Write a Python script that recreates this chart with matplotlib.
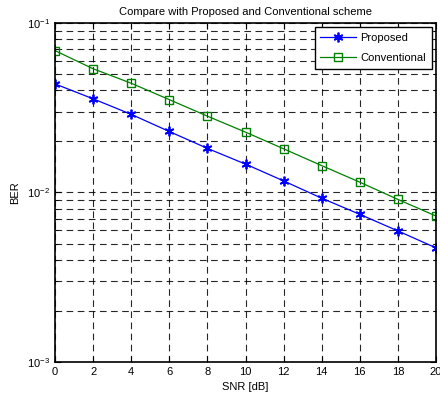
import matplotlib
matplotlib.use("Agg")
import matplotlib.pyplot as plt
from matplotlib.ticker import LogLocator, NullFormatter

plt.rcParams['font.family'] = ['Liberation Sans', 'DejaVu Sans']

snr = [0, 2, 4, 6, 8, 10, 12, 14, 16, 18, 20]
ber_proposed = [0.0437, 0.0357, 0.0289, 0.0229, 0.0182, 0.0147, 0.0117, 0.00925, 0.00743, 0.00593, 0.00471]
ber_conventional = [0.0687, 0.0537, 0.0441, 0.0353, 0.0282, 0.0227, 0.0181, 0.0144, 0.0115, 0.0091, 0.00726]
xticks = [0, 2, 4, 6, 8, 10, 12, 14, 16, 18, 20]

fig = plt.figure(figsize=(4.4, 4.01), dpi=100)
ax = fig.add_axes([0.125, 0.0973, 0.866, 0.8454])

ax.semilogy(snr, ber_proposed, '-', marker=(6, 2, 0), color='blue', lw=0.9, ms=7, mew=1.3, label='Proposed')
ax.semilogy(snr, ber_conventional, '-s', color='green', lw=0.9, ms=6, mfc='none', mew=1.0, label='Conventional')

ax.set_xlim(0, 20)
ax.set_ylim(1e-3, 1e-1)
ax.set_xticks(xticks)
ax.yaxis.set_major_locator(LogLocator(base=10, numticks=10))
ax.yaxis.set_minor_locator(LogLocator(base=10, subs=range(2, 10), numticks=10))
ax.yaxis.set_minor_formatter(NullFormatter())

ax.grid(True, which='major', color='black', ls=(0, (6, 4)), lw=0.8, alpha=0.85)
ax.grid(True, which='minor', axis='y', color='black', ls=(0, (6, 4)), lw=0.8, alpha=0.85)

ax.tick_params(which='both', direction='in', top=True, right=True, labelsize=8)
ax.tick_params(which='major', length=4)
ax.tick_params(which='minor', length=2)
for s in ax.spines.values():
    s.set_linewidth(1.2)

ax.set_title('Compare with Proposed and Conventional scheme', fontsize=8, pad=6)
ax.set_xlabel('SNR [dB]', fontsize=8, labelpad=4)
ax.set_ylabel('BER', fontsize=8, labelpad=5)

leg = ax.legend(loc='upper right', fontsize=8, fancybox=False, framealpha=1,
                edgecolor='black', borderaxespad=0.4, handlelength=3.2,
                labelspacing=0.9, borderpad=0.5, handletextpad=0.4)
leg.get_frame().set_linewidth(1.0)

fig.savefig('out.png', dpi=100)
